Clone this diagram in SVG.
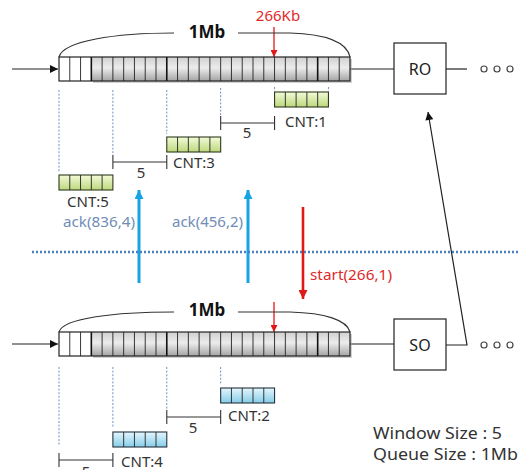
<svg xmlns="http://www.w3.org/2000/svg" xmlns:xlink="http://www.w3.org/1999/xlink" width="519" height="470" viewBox="0 0 519 470">
<style>
text{font-family:"Noto Sans","Liberation Sans",Arial,sans-serif;}
.lbl{font-size:15px;fill:#333;}
.big{font-size:17px;font-weight:bold;fill:#111;}
.box{fill:#fff;stroke:#222;stroke-width:1.2;}
.blk{stroke:#222;stroke-width:1.2;fill:none;}
.arc{stroke:#333;stroke-width:1.2;fill:none;}
.dash{stroke:#5a86c4;stroke-width:0.9;stroke-dasharray:2 1.6;fill:none;}
.brk{stroke:#333;stroke-width:1.1;fill:none;}
.ack{font-size:15px;fill:#6f8db6;}
.red{fill:#e02a2a;}
.note{font-size:16px;fill:#333;}
.cell{stroke:#222;stroke-width:0.9;fill:none;}
</style>
<defs>
<linearGradient id="gGray" x1="0" y1="0" x2="0" y2="1">
<stop offset="0" stop-color="#d0d0d0"/>
<stop offset="0.45" stop-color="#ececec"/>
<stop offset="1" stop-color="#a4a4a4"/>
</linearGradient>
<linearGradient id="gGreen" x1="0" y1="0" x2="0" y2="1">
<stop offset="0" stop-color="#f3fbd8"/>
<stop offset="1" stop-color="#bcd87c"/>
</linearGradient>
<linearGradient id="gBlue" x1="0" y1="0" x2="0" y2="1">
<stop offset="0" stop-color="#e4f6fd"/>
<stop offset="1" stop-color="#86cde9"/>
</linearGradient>
<marker id="mBlack" viewBox="0 0 10 10" refX="10" refY="5" markerWidth="9" markerHeight="8" markerUnits="userSpaceOnUse" orient="auto">
<path d="M0,0 L10,5 L0,10 z" fill="#111"/>
</marker>
<marker id="mBlue" viewBox="0 0 10 10" refX="10" refY="5" markerWidth="10" markerHeight="9" markerUnits="userSpaceOnUse" orient="auto">
<path d="M0,0 L10,5 L0,10 z" fill="#16a3e3"/>
</marker>
<marker id="mRed" viewBox="0 0 10 10" refX="10" refY="5" markerWidth="10" markerHeight="9" markerUnits="userSpaceOnUse" orient="auto">
<path d="M0,0 L10,5 L0,10 z" fill="#e01818"/>
</marker>
<marker id="mRedS" viewBox="0 0 10 10" refX="10" refY="5" markerWidth="7" markerHeight="7" markerUnits="userSpaceOnUse" orient="auto">
<path d="M0,0 L10,5 L0,10 z" fill="#e01818"/>
</marker>
<g id="queueShape">
<rect x="93" y="2" width="259" height="24" fill="#9a9a9a" opacity="0.45"/>
<rect x="59" y="0" width="32.33" height="24" fill="#fff"/>
<rect x="91.33" y="0" width="258.67" height="24" fill="url(#gGray)"/>
<path class="cell" d="M69.78,0v24M80.56,0v24M102.11,0v24M112.89,0v24M123.67,0v24M134.44,0v24M145.22,0v24M156,0v24M177.56,0v24M188.33,0v24M199.11,0v24M209.89,0v24M220.67,0v24M231.44,0v24M242.22,0v24M253,0v24M263.78,0v24M274.56,0v24M285.33,0v24M296.11,0v24M306.89,0v24M328.44,0v24M339.22,0v24"/>
<path d="M91.33,0v24M166.78,0v24M317.67,0v24" stroke="#111" stroke-width="1.6"/>
<rect x="59" y="0" width="291" height="24" fill="none" stroke="#222" stroke-width="1.2"/>
</g>
<path id="cnt5" class="cell" d="M10.78,0v15M21.56,0v15M32.33,0v15M43.11,0v15"/>
</defs>

<g id="connectors">
<line x1="12" y1="69" x2="58" y2="69" class="blk" marker-end="url(#mBlack)"/>
<line x1="350" y1="69" x2="394" y2="69" class="blk"/>
<line x1="446" y1="69" x2="467" y2="69" class="blk"/>
<line x1="12" y1="344" x2="58" y2="344" class="blk" marker-end="url(#mBlack)"/>
<line x1="350" y1="344" x2="394" y2="344" class="blk"/>
<polyline points="446,345 467,345 428,112" class="blk" marker-end="url(#mBlack)"/>
<line x1="274" y1="27" x2="274" y2="57" stroke="#e01818" stroke-width="1.3" marker-end="url(#mRedS)"/>
<line x1="274" y1="302" x2="274" y2="332" stroke="#e01818" stroke-width="1.3" marker-end="url(#mRedS)"/>
<line x1="139" y1="283" x2="139" y2="190" stroke="#16a3e3" stroke-width="3" marker-end="url(#mBlue)"/>
<line x1="248" y1="283" x2="248" y2="190" stroke="#16a3e3" stroke-width="3" marker-end="url(#mBlue)"/>
<line x1="303" y1="207" x2="303" y2="299" stroke="#e01818" stroke-width="2.6" marker-end="url(#mRed)"/>
<line x1="32" y1="252" x2="519" y2="252" stroke="#4a7ec2" stroke-width="2.6" stroke-dasharray="2 2"/>
<path class="dash" d="M59,90V172M112.89,90V155M166.78,90V134M220.67,88V115M274.56,87V91M328.44,87V91"/>
<path class="dash" d="M59,367V445M112.89,367V428M166.78,367V410M220.67,367V384"/>
<path class="brk" d="M220.67,123H274.56M220.67,116V130M274.56,116V130"/>
<path class="brk" d="M112.89,162H166.78M112.89,155V169M166.78,155V169"/>
<path class="brk" d="M166.78,417H220.67M166.78,410V424M220.67,410V424"/>
<path class="brk" d="M59,460H112.89M59,453V467M112.89,453V467"/>
</g>

<g id="queue-top">
<use xlink:href="#queueShape" transform="translate(0,57)"/>
<path class="arc" d="M59,57 C63,41 115,33 174,33"/>
<path class="arc" d="M238,33 L290,33 C325,34 347,42 350,57"/>
<text class="big" x="207" y="38" text-anchor="middle">1Mb</text>
<text x="278" y="21" text-anchor="middle" font-size="15" class="red">266Kb</text>
</g>

<g id="queue-bottom">
<use xlink:href="#queueShape" transform="translate(0,332)"/>
<path class="arc" d="M59,332 C63,318 115,312 174,312"/>
<path class="arc" d="M238,312 L290,312 C325,313 347,320 350,332"/>
<text class="big" x="207" y="316" text-anchor="middle">1Mb</text>
</g>

<g id="RO">
<rect class="box" x="394" y="43" width="52" height="51"/>
<text x="420" y="75" text-anchor="middle" font-size="16" fill="#222">RO</text>
</g>
<g id="RO-dots" fill="none" stroke="#444" stroke-width="1.2">
<circle cx="484" cy="69" r="3"/><circle cx="497" cy="69" r="3"/><circle cx="510" cy="69" r="3"/>
</g>
<g id="SO">
<rect class="box" x="394" y="319" width="52" height="51"/>
<text x="420" y="351" text-anchor="middle" font-size="16" fill="#222">SO</text>
</g>
<g id="SO-dots" fill="none" stroke="#444" stroke-width="1.2">
<circle cx="484" cy="345" r="3"/><circle cx="497" cy="345" r="3"/><circle cx="510" cy="345" r="3"/>
</g>

<g id="cnt1">
<rect x="274.56" y="92" width="53.89" height="15" fill="url(#gGreen)" stroke="#2f3a1c" stroke-width="1.1"/>
<use xlink:href="#cnt5" transform="translate(274.56,92)"/>
<text class="lbl" x="285" y="127">CNT:1</text>
</g>
<g id="cnt3">
<rect x="166.78" y="137" width="53.89" height="15" fill="url(#gGreen)" stroke="#2f3a1c" stroke-width="1.1"/>
<use xlink:href="#cnt5" transform="translate(166.78,137)"/>
<text class="lbl" x="173" y="168">CNT:3</text>
</g>
<g id="cnt5g">
<rect x="59" y="175" width="53.89" height="15" fill="url(#gGreen)" stroke="#2f3a1c" stroke-width="1.1"/>
<use xlink:href="#cnt5" transform="translate(59,175)"/>
<text class="lbl" x="67" y="207">CNT:5</text>
</g>
<g id="cnt2">
<rect x="220.67" y="388" width="53.89" height="15" fill="url(#gBlue)" stroke="#25323c" stroke-width="1.1"/>
<use xlink:href="#cnt5" transform="translate(220.67,388)"/>
<text class="lbl" x="228" y="421">CNT:2</text>
</g>
<g id="cnt4">
<rect x="112.89" y="432" width="53.89" height="15" fill="url(#gBlue)" stroke="#25323c" stroke-width="1.1"/>
<use xlink:href="#cnt5" transform="translate(112.89,432)"/>
<text class="lbl" x="121" y="467">CNT:4</text>
</g>

<g id="labels">
<text class="lbl" x="247" y="138" text-anchor="middle">5</text>
<text class="lbl" x="141" y="178" text-anchor="middle">5</text>
<text class="lbl" x="193" y="433" text-anchor="middle">5</text>
<text class="lbl" x="86" y="477" text-anchor="middle">5</text>
<text class="ack" x="63" y="227" textLength="72" lengthAdjust="spacingAndGlyphs">ack(836,4)</text>
<text class="ack" x="172" y="227" textLength="71" lengthAdjust="spacingAndGlyphs">ack(456,2)</text>
<text class="red" x="310" y="280" font-size="15" textLength="82" lengthAdjust="spacingAndGlyphs">start(266,1)</text>
<text class="note" x="373" y="439" textLength="129" lengthAdjust="spacingAndGlyphs">Window Size : 5</text>
<text class="note" x="373" y="460" textLength="145" lengthAdjust="spacingAndGlyphs">Queue Size : 1Mb</text>
</g>
</svg>
